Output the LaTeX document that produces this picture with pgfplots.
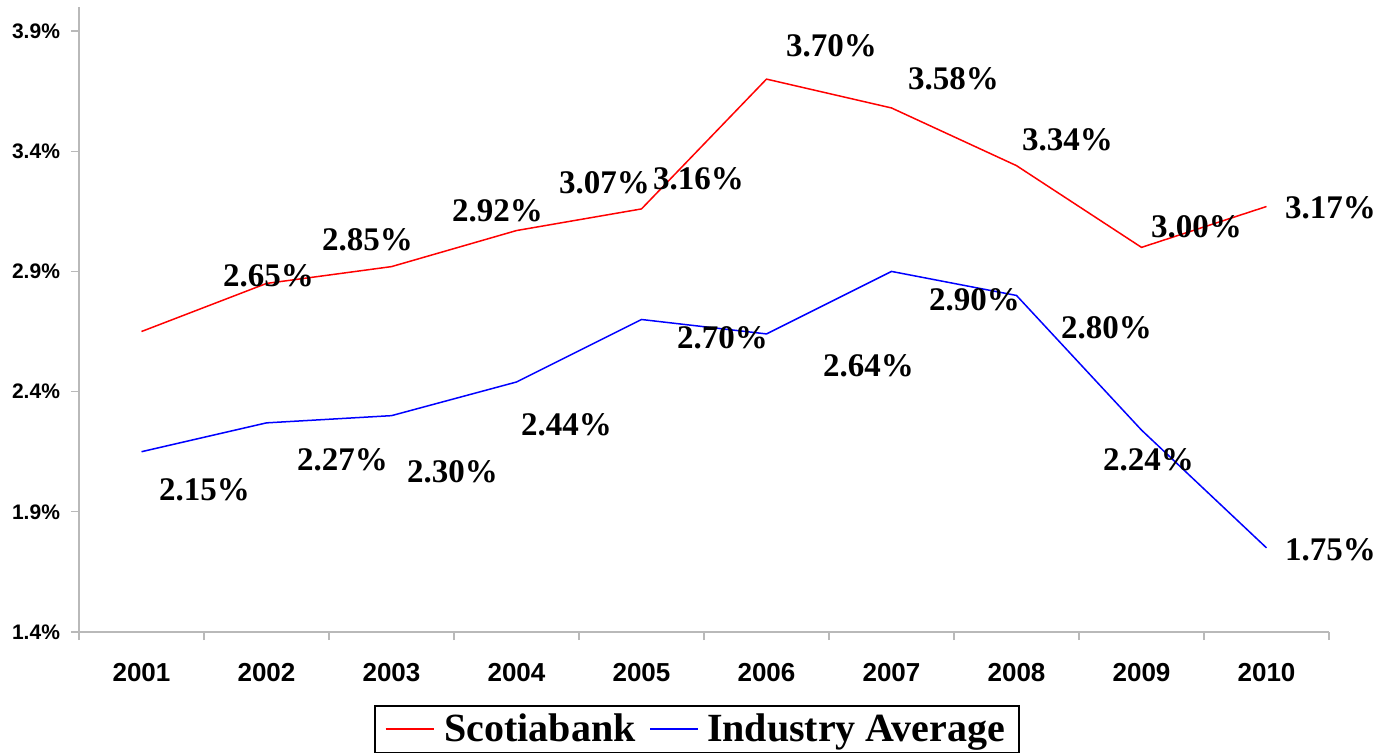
\documentclass[border=0pt]{standalone}
\usepackage{pgfplots}
\pgfplotsset{compat=1.18}
\usepackage{fontspec}
\setmainfont{Liberation Serif}
\setsansfont{Liberation Sans}
\begin{document}
\begin{tikzpicture}
\begin{axis}[
  scale only axis, width=625pt, height=312.5pt,
  xmin=-0.5, xmax=9.5, ymin=1.4, ymax=4.0,
  axis x line*=bottom, axis y line*=left,
  axis line style={draw=gray!55, line width=0.6pt},
  xtick={-0.5,0.5,1.5,2.5,3.5,4.5,5.5,6.5,7.5,8.5,9.5},
  x tick label as interval,
  xticklabels={2001,2002,2003,2004,2005,2006,2007,2008,2009,2010},
  ytick={1.4,1.9,2.4,2.9,3.4,3.9},
  yticklabel={\pgfmathprintnumber[fixed,precision=1,fixed zerofill]{\tick}\%},
  tick align=outside, major tick length=4pt,
  tick style={draw=gray!55, line width=0.6pt},
  x tick label style={font=\sffamily\bfseries\fontsize{13}{15}\selectfont, yshift=-8pt},
  y tick label style={font=\sffamily\bfseries\fontsize{10.5}{12}\selectfont, xshift=-2pt},
  /pgf/number format/assume math mode=true,
  clip=false,
  legend style={at={(0.4944,-0.1168)}, anchor=north, legend columns=-1,
    draw=black, line width=0.8pt,
    font=\bfseries\fontsize{20}{22}\selectfont,
    inner xsep=5pt, inner ysep=2pt,
    /tikz/every even column/.append style={column sep=5pt}},
  legend image code/.code={\draw[#1] (0pt,0pt) -- (24pt,0pt);},
]
\addplot[red, line width=0.75pt] coordinates {
(0,2.65) (1,2.85) (2,2.92) (3,3.07) (4,3.16) (5,3.70) (6,3.58) (7,3.34) (8,3.00) (9,3.17)};
\addlegendentry{\hspace{3pt}Scotiabank}
\addplot[blue, line width=0.75pt] coordinates {
(0,2.15) (1,2.27) (2,2.30) (3,2.44) (4,2.70) (5,2.64) (6,2.90) (7,2.80) (8,2.24) (9,1.75)};
\addlegendentry{\hspace{2pt}Industry Average}
\tikzset{lab/.style={font=\bfseries\fontsize{16.5}{18}\selectfont, inner sep=0pt, anchor=center}}
% Scotiabank labels
\node[lab] at (axis cs:1.016,2.881) {2.65\%};
\node[lab] at (axis cs:1.808,3.031) {2.85\%};
\node[lab] at (axis cs:2.848,3.151) {2.92\%};
\node[lab] at (axis cs:3.704,3.268) {3.07\%};
\node[lab] at (axis cs:4.456,3.284) {3.16\%};
\node[lab] at (axis cs:5.520,3.838) {3.70\%};
\node[lab] at (axis cs:6.496,3.700) {3.58\%};
\node[lab] at (axis cs:7.408,3.447) {3.34\%};
\node[lab] at (axis cs:8.440,3.085) {3.00\%};
\node[lab] at (axis cs:9.512,3.164) {3.17\%};
% Industry labels
\node[lab] at (axis cs:0.504,1.991) {2.15\%};
\node[lab] at (axis cs:1.608,2.115) {2.27\%};
\node[lab] at (axis cs:2.488,2.066) {2.30\%};
\node[lab] at (axis cs:3.400,2.261) {2.44\%};
\node[lab] at (axis cs:4.648,2.623) {2.70\%};
\node[lab] at (axis cs:5.816,2.506) {2.64\%};
\node[lab] at (axis cs:6.664,2.781) {2.90\%};
\node[lab] at (axis cs:7.720,2.665) {2.80\%};
\node[lab] at (axis cs:8.056,2.115) {2.24\%};
\node[lab] at (axis cs:9.512,1.741) {1.75\%};
\end{axis}
\pgfresetboundingbox
\path ([xshift=-39.5pt,yshift=-61.5pt]current axis.south west) rectangle ([xshift=26.5pt,yshift=3.5pt]current axis.north east);
\end{tikzpicture}
\end{document}
